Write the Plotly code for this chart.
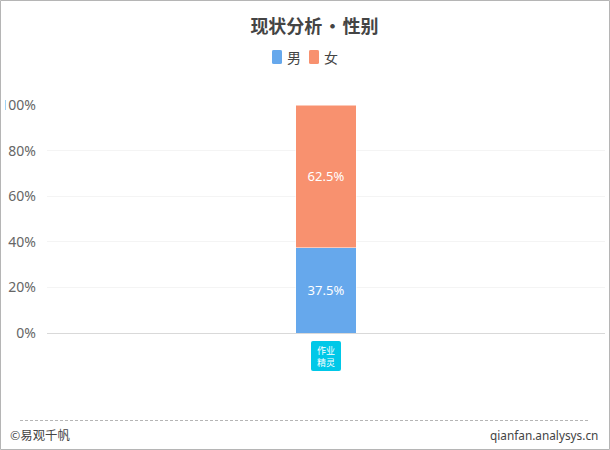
import plotly.graph_objects as go

categories = ["作业精灵"]
series_names = ["男", "女"]
male_share = [37.5]
female_share = [62.5]
series_values = [male_share, female_share]
series_colors = ["#66A8EC", "#F8916F"]
tick_values = [0, 20, 40, 60, 80, 100]
tick_labels = ["0%", "20%", "40%", "60%", "80%", "100%"]

W, H = 610, 450
CJK = "Noto Sans CJK SC, Noto Sans, sans-serif"
LATIN = "Noto Sans, sans-serif"

fig = go.Figure()

for name, vals, col in zip(series_names, series_values, series_colors):
    fig.add_trace(go.Bar(
        x=categories, y=vals, name=name,
        marker=dict(color=col, line=dict(color="#ffffff", width=0.5)),
        text=["%.1f%%" % v for v in vals],
        textposition="inside", insidetextanchor="middle", textangle=0,
        textfont=dict(color="#ffffff", size=13, family=LATIN),
        showlegend=False,
    ))


def px(x):
    return x / W


def py(y):
    return 1 - y / H


def rounded(x0, y0, x1, y1, r):
    return (f"M{x0 + r},{y0} L{x1 - r},{y0} Q{x1},{y0} {x1},{y0 + r} L{x1},{y1 - r} "
            f"Q{x1},{y1} {x1 - r},{y1} L{x0 + r},{y1} Q{x0},{y1} {x0},{y1 - r} "
            f"L{x0},{y0 + r} Q{x0},{y0} {x0 + r},{y0} Z")


shapes = []
annotations = []

# legend, hand placed because plotly's symbol gap is too wide
legend_x = [272, 309]
for lx, name, col in zip(legend_x, series_names, series_colors):
    shapes.append(dict(
        type="path", xref="paper", yref="paper",
        path=rounded(px(lx), py(64), px(lx + 10), py(50), 0.003),
        fillcolor=col, line=dict(width=0),
    ))
    annotations.append(dict(
        text=name, xref="paper", yref="paper", x=px(lx + 13), y=py(57.5),
        xanchor="left", yanchor="middle", showarrow=False,
        font=dict(size=14, color="#444444", family=CJK),
    ))

# category badge under the bar
shapes.append(dict(
    type="path", xref="x", yref="paper",
    xsizemode="pixel", ysizemode="pixel", xanchor=categories[0], yanchor=py(333),
    path=rounded(-15, -38, 15, -8, 2),
    fillcolor="#00C8E8", line=dict(width=0),
))
annotations.append(dict(
    text="作业<br>精灵", x=categories[0], xref="x", yref="paper", y=py(333), yshift=-23,
    xanchor="center", yanchor="middle", showarrow=False,
    font=dict(size=9, color="#ffffff", family=CJK),
))

# footer
shapes.append(dict(
    type="line", xref="paper", yref="paper", x0=px(20), x1=px(589), y0=py(420.5), y1=py(420.5),
    line=dict(color="#b5b5b5", width=1, dash="3px,2px"),
))
annotations.append(dict(
    text="©易观千帆", xref="paper", yref="paper", x=px(8), y=py(434.5),
    xanchor="left", yanchor="middle", showarrow=False,
    font=dict(size=12.4, color="#444444", family=CJK),
))
annotations.append(dict(
    text="qianfan.analysys.cn", xref="paper", yref="paper", x=px(600), y=py(434.5),
    xanchor="right", yanchor="middle", showarrow=False,
    font=dict(size=11.8, color="#444444", family=LATIN),
))

# left edge hides most of the "1", as in the source
shapes.append(dict(
    type="rect", xref="paper", yref="paper", x0=px(1), x1=px(5), y0=py(115), y1=py(95),
    fillcolor="#ffffff", line=dict(width=0), layer="above",
))

# outer frame
shapes.append(dict(
    type="rect", xref="paper", yref="paper", x0=px(0.5), x1=px(609.5), y0=py(449.5), y1=py(0.5),
    line=dict(color="#b5b5b5", width=1),
))

fig.update_layout(
    width=W, height=H,
    autosize=False,
    barmode="stack",
    bargap=0.891,
    paper_bgcolor="#ffffff",
    plot_bgcolor="#ffffff",
    margin=dict(l=0, r=0, t=0, b=0, autoexpand=False),
    title=dict(
        text="<b>现状分析\u200a•\u200a性别</b>", x=px(314.5), xanchor="center", y=py(27), yanchor="middle",
        font=dict(size=18, color="#444444", family=CJK),
    ),
    xaxis=dict(
        domain=[px(47), px(605)],
        showticklabels=False, ticks="", showgrid=False,
        showline=True, linecolor="#d9d9d9", linewidth=1,
    ),
    yaxis=dict(
        domain=[py(333), py(105)],
        range=[0, 100],
        tickvals=tick_values, ticktext=tick_labels,
        tickfont=dict(size=14, color="#666666", family=LATIN),
        ticks="", showline=False,
        ticklabelstandoff=10,
        gridcolor="#f4f4f4", gridwidth=1,
        zeroline=False,
    ),
    shapes=shapes,
    annotations=annotations,
    hovermode=False,
)

fig.write_html("out.html", config=dict(displayModeBar=False), post_script="document.body.style.margin='0';")
